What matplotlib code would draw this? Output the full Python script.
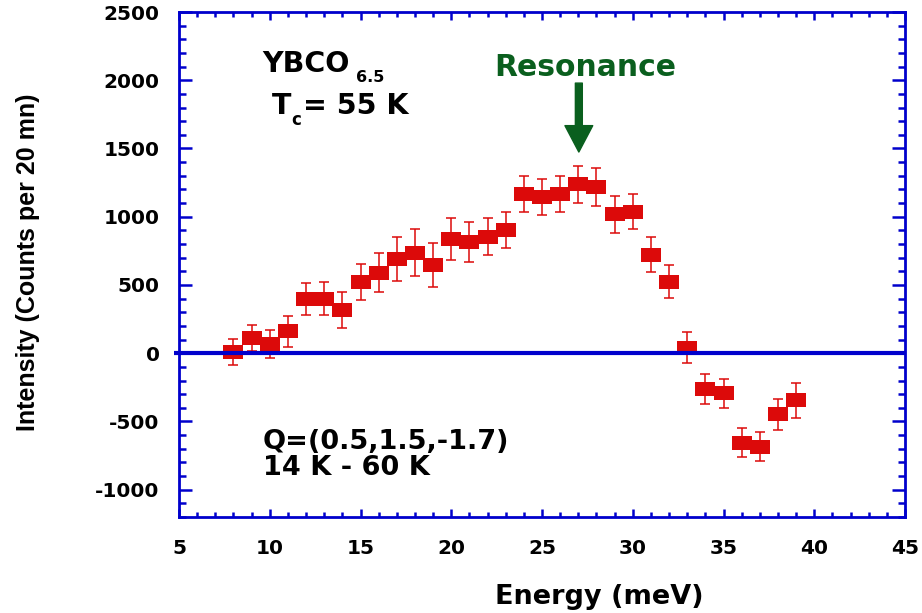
import matplotlib
matplotlib.use("Agg")
import matplotlib.pyplot as plt
from matplotlib.ticker import MultipleLocator

plt.rcParams['axes.unicode_minus'] = False

# ---- data ----
energy = [8, 9, 10, 11, 12, 13, 14, 15, 16, 17, 18, 19, 20, 21, 22, 23,
          24, 25, 26, 27, 28, 29, 30, 31, 32, 33, 34, 35, 36, 37, 38, 39]
intensity = [10, 110, 70, 160, 400, 400, 316, 525, 590, 690, 735, 647,
             840, 814, 853, 904, 1167, 1145, 1169, 1238, 1218, 1017, 1037,
             723, 522, 40, -265, -294, -655, -685, -449, -346]
errors = [97, 96, 103, 114, 118, 121, 129, 132, 143, 162, 172, 164,
          154, 147, 136, 134, 132, 132, 132, 136, 136, 136, 130,
          125, 121, 114, 110, 108, 105, 105, 114, 125]
baseline_x = [4.72, 45]
baseline_y = [0, 0]
xticks = [5, 10, 15, 20, 25, 30, 35, 40, 45]
yticks = [-1000, -500, 0, 500, 1000, 1500, 2000, 2500]

RED = '#DC0A0A'
BLUE = '#0000CC'
GREEN = '#0A5F1E'
BOLD = dict(family=['DejaVu Sans'], fontweight='bold')

fig = plt.figure(figsize=(9.22, 6.13), dpi=100)
ax = fig.add_axes([179/922, 1-517/613, (905-179)/922, (517-12)/613])

rect = [(-1, -0.72), (1, -0.72), (1, 0.72), (-1, 0.72), (-1, -0.72)]
ax.errorbar(energy, intensity, yerr=errors, fmt='none', ecolor=RED,
            elinewidth=1.1, capsize=3.3, capthick=1.1, zorder=2)
ax.plot(energy, intensity, linestyle='none', marker=rect, markersize=14.4,
        color=RED, markeredgewidth=0, zorder=3)
ax.plot(baseline_x, baseline_y, color=BLUE, linewidth=3.0, zorder=4,
        clip_on=False, solid_capstyle='butt')

ax.set_xlim(5, 45)
ax.set_ylim(-1200, 2500)
ax.set_xticks(xticks)
ax.set_yticks(yticks)
ax.xaxis.set_minor_locator(MultipleLocator(1))
ax.yaxis.set_minor_locator(MultipleLocator(100))
for s in ax.spines.values():
    s.set_color(BLUE)
    s.set_linewidth(2.0)
ax.tick_params(which='both', direction='in', top=True, right=True,
               color=BLUE, width=1.8)
ax.tick_params(axis='x', which='major', length=6, pad=16)
ax.tick_params(axis='x', which='minor', length=3.3)
ax.tick_params(axis='y', which='major', length=9.5, pad=14)
ax.tick_params(axis='y', which='minor', length=4.8)
for lab in ax.get_xticklabels() + ax.get_yticklabels():
    lab.set_fontfamily(['DejaVu Sans'])
    lab.set_fontweight('bold')
    lab.set_fontsize(14.5)

ax.set_xlabel('Energy (meV)', fontsize=19.5, **BOLD)
ax.xaxis.set_label_coords((599-179)/726, (517-597)/505)
ax.xaxis.label.set_va('center')
ax.set_ylabel('Intensity (Counts per 20 mn)', fontsize=18,
              family=['Liberation Sans', 'DejaVu Sans'], fontweight='bold')
ax.yaxis.set_label_coords((28-179)/726, (517-262)/505)
ax.yaxis.label.set_va('center')

# annotations
t1 = ax.text(9.57, 2060, 'YBCO', fontsize=20.5, va='baseline', ha='left', **BOLD)
ax.annotate('6.5', xy=(1, 1987), xycoords=(t1, 'data'), xytext=(5, 0),
            textcoords='offset points', fontsize=11.5, va='baseline', ha='left', **BOLD)
t2 = ax.text(10.1, 1752, 'T', fontsize=20.5, va='baseline', ha='left', **BOLD)
t3 = ax.annotate('c', xy=(1, 1672), xycoords=(t2, 'data'), xytext=(0.5, 0),
                 textcoords='offset points', fontsize=12, va='baseline', ha='left', **BOLD)
ax.annotate('= 55 K', xy=(1, 1752), xycoords=(t3, 'data'), xytext=(1, 0),
            textcoords='offset points', fontsize=20.5, va='baseline', ha='left', **BOLD)

ax.text(27.37, 2030, 'Resonance', fontsize=21.5, color=GREEN, va='baseline',
        ha='center', **BOLD)
ax.annotate('', xy=(27.03, 1474), xytext=(27.03, 1979),
            arrowprops=dict(arrowstyle='simple,head_length=19,head_width=20,tail_width=5',
                            mutation_scale=1, color=GREEN, shrinkA=0, shrinkB=0))

ax.text(9.63, -705, 'Q=(0.5,1.5,-1.7)', fontsize=19.5, va='baseline', ha='left', **BOLD)
ax.text(9.63, -895, '14 K - 60 K', fontsize=19.5, va='baseline', ha='left', **BOLD)

fig.savefig('out.png', dpi=100)
